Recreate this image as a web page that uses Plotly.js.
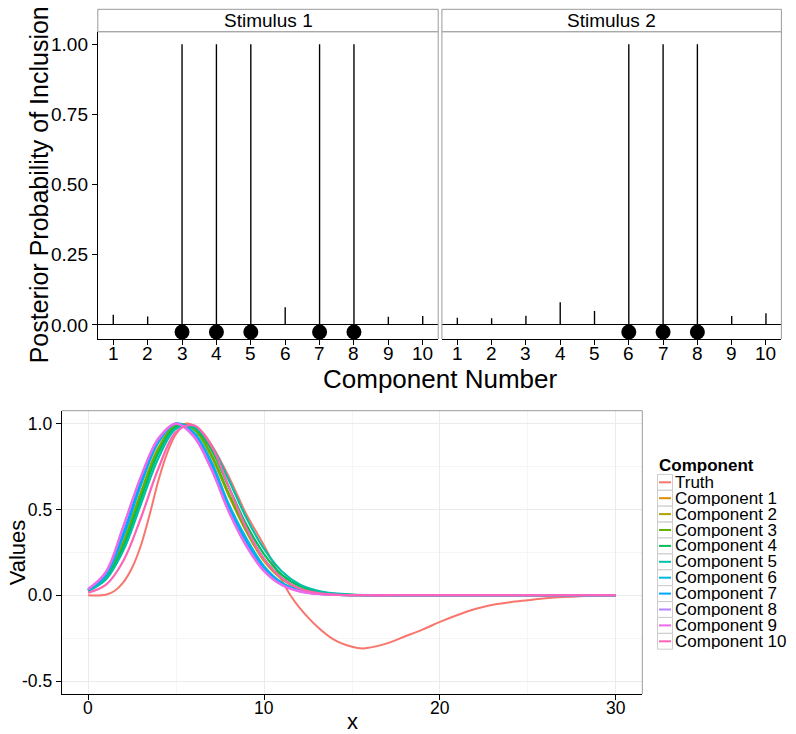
<!DOCTYPE html>
<html>
<head>
<meta charset="utf-8">
<script src="https://cdn.plot.ly/plotly-3.0.1.min.js"></script>
<style>html,body{margin:0;padding:0;background:#fff;}#chart{width:796px;height:734px;}</style>
</head>
<body>
<div id="chart"></div>
<script>
// ---------- data: top panels ----------
const stimulusNames = ['Stimulus 1', 'Stimulus 2'];
const componentNumbers = [1, 2, 3, 4, 5, 6, 7, 8, 9, 10];
const stim1Prob = [0.036, 0.030, 1.0, 1.0, 1.0, 0.063, 1.0, 1.0, 0.029, 0.032];
const stim2Prob = [0.026, 0.024, 0.033, 0.081, 0.050, 1.0, 1.0, 1.0, 0.032, 0.042];
const stim1Selected = [3, 4, 5, 7, 8];
const stim2Selected = [6, 7, 8];
const selectedLevel = -0.025;
const topYTicks = [0, 0.25, 0.5, 0.75, 1.0];

// ---------- data: bottom panel ----------
const curveX = [0,1,2,3,4,5,6,7,8,9,10,11,12,13,14,15,16,17,18,19,20,21,22,23,24,25,26,27,28,29,30];
const truthX = [0,1,1.5,2,2.5,3,3.5,4,4.5,5,5.6,6,6.5,7,7.5,8,8.5,9,9.5,10,10.5,11,11.5,12,13,14,15,15.6,16,17,18,19,20,21,22,23,24,25,26,27,28,29,30];
const truthY = [0,0.003,0.025,0.075,0.16,0.29,0.47,0.67,0.83,0.94,1.0,0.99,0.95,0.88,0.79,0.69,0.58,0.47,0.38,0.29,0.19,0.09,0.0,-0.07,-0.18,-0.26,-0.3,-0.31,-0.305,-0.28,-0.24,-0.2,-0.155,-0.115,-0.08,-0.055,-0.04,-0.029,-0.018,-0.01,-0.005,-0.002,0];
const comp1 = [0.028,0.10,0.31,0.60,0.86,0.99,0.97,0.81,0.58,0.37,0.20,0.095,0.038,0.014,0.005,0.001,0,0,0,0,0,0,0,0,0,0,0,0,0,0,0];
const comp2 = [0.027,0.098,0.30,0.59,0.85,0.99,0.97,0.82,0.59,0.38,0.21,0.10,0.04,0.015,0.005,0.001,0,0,0,0,0,0,0,0,0,0,0,0,0,0,0];
const comp3 = [0.028,0.10,0.30,0.59,0.85,0.99,0.97,0.82,0.59,0.38,0.21,0.10,0.04,0.015,0.005,0.001,0,0,0,0,0,0,0,0,0,0,0,0,0,0,0];
const comp4 = [0.026,0.095,0.28,0.56,0.83,0.98,0.98,0.85,0.63,0.41,0.24,0.12,0.055,0.022,0.008,0.003,0.001,0,0,0,0,0,0,0,0,0,0,0,0,0,0];
const comp5 = [0.025,0.09,0.26,0.53,0.80,0.97,0.98,0.87,0.67,0.45,0.27,0.14,0.065,0.028,0.011,0.004,0.001,0,0,0,0,0,0,0,0,0,0,0,0,0,0];
const comp6 = [0.03,0.115,0.34,0.64,0.89,1.0,0.95,0.78,0.53,0.33,0.17,0.075,0.03,0.011,0.004,0.001,0,0,0,0,0,0,0,0,0,0,0,0,0,0,0];
const comp7 = [0.032,0.12,0.36,0.66,0.90,1.0,0.94,0.76,0.51,0.31,0.155,0.068,0.027,0.01,0.003,0.001,0,0,0,0,0,0,0,0,0,0,0,0,0,0,0];
const comp8 = [0.035,0.13,0.40,0.69,0.91,1.0,0.93,0.74,0.49,0.29,0.145,0.062,0.024,0.009,0.003,0.001,0,0,0,0,0,0,0,0,0,0,0,0,0,0,0];
const comp9 = [0.036,0.135,0.40,0.69,0.915,1.0,0.925,0.735,0.485,0.285,0.14,0.06,0.023,0.008,0.003,0.001,0,0,0,0,0,0,0,0,0,0,0,0,0,0,0];
const comp10 = [0.015,0.06,0.20,0.45,0.74,0.95,0.99,0.87,0.63,0.39,0.21,0.10,0.04,0.014,0.004,0.001,0,0,0,0,0,0,0,0,0,0,0,0,0,0,0];
const seriesNames = ['Truth','Component 1','Component 2','Component 3','Component 4','Component 5','Component 6','Component 7','Component 8','Component 9','Component 10'];
const seriesColors = ['#F8766D','#DB8E00','#AEA200','#64B200','#00BD5C','#00C1A7','#00BADE','#00A6FF','#B385FF','#EF67EB','#FF63B6'];
const bottomXTicks = [0, 10, 20, 30];
const bottomXMinor = [5, 15, 25];
const bottomYTicks = [-0.5, 0, 0.5, 1.0];
const bottomYTickText = ['-0.5', '0.0', '0.5', '1.0'];
const bottomYMinor = [-0.25, 0.25, 0.75];

// ---------- layout helpers ----------
const W = 796, H = 734;
const px = v => v / W;
const py = v => 1 - v / H;
const FONT = 'Liberation Sans, Arial, sans-serif';
const GRAY = '#9a9a9a';

const p1 = [97.8, 438.2], p2 = [441.9, 781.4];
const topY = [31.7, 339];
const stripY = [9.3, 31.7];
const bx = [61.7, 642.3], by = [410.7, 694];

const traces = [];
[[stim1Prob, 'x'], [stim2Prob, 'x2']].forEach(([vals, xa]) => {
  traces.push({type: 'bar', x: componentNumbers, y: vals, xaxis: xa, yaxis: 'y', width: 0.04,
    marker: {color: '#000', line: {width: 0}}, showlegend: false, hoverinfo: 'skip'});
});
[[stim1Selected, 'x'], [stim2Selected, 'x2']].forEach(([sel, xa]) => {
  traces.push({type: 'scatter', mode: 'markers', x: sel, y: sel.map(() => selectedLevel), xaxis: xa, yaxis: 'y',
    marker: {color: '#000', size: 15}, cliponaxis: false, showlegend: false, hoverinfo: 'skip'});
});
const compSeries = [comp1, comp2, comp3, comp4, comp5, comp6, comp7, comp8, comp9, comp10];
traces.push({type: 'scatter', mode: 'lines', x: truthX, y: truthY, xaxis: 'x3', yaxis: 'y3',
  line: {color: seriesColors[0], width: 2, shape: 'spline', smoothing: 1}, name: seriesNames[0], showlegend: false});
compSeries.forEach((ys, i) => {
  traces.push({type: 'scatter', mode: 'lines', x: curveX, y: ys, xaxis: 'x3', yaxis: 'y3',
    line: {color: seriesColors[i + 1], width: 2.2, shape: 'spline', smoothing: 1}, name: seriesNames[i + 1], showlegend: false});
});

const tickFont = {family: FONT, size: 19, color: '#000'};
const topX = dom => ({domain: [px(dom[0]), px(dom[1])], range: [0.55, 10.45], anchor: 'y', tickmode: 'array', tickvals: componentNumbers,
  ticks: 'outside', ticklen: 5, tickcolor: '#000', tickwidth: 1, showline: true, linecolor: '#000', linewidth: 1,
  showgrid: false, zeroline: false, showticklabels: false, fixedrange: true});

const shapes = [];
const annotations = [];
[p1, p2].forEach((d, i) => {
  shapes.push({type: 'line', xref: 'paper', yref: 'paper', x0: px(d[0]), x1: px(d[1]), y0: py(topY[0]), y1: py(topY[0]), line: {color: GRAY, width: 1}});
  shapes.push({type: 'line', xref: 'paper', yref: 'paper', x0: px(d[1]), x1: px(d[1]), y0: py(topY[0]), y1: py(topY[1]), line: {color: GRAY, width: 1}});
  if (i === 1) shapes.push({type: 'line', xref: 'paper', yref: 'paper', x0: px(d[0]), x1: px(d[0]), y0: py(topY[0]), y1: py(topY[1]), line: {color: GRAY, width: 1}});
  shapes.push({type: 'rect', xref: 'paper', yref: 'paper', x0: px(d[0]), x1: px(d[1]), y0: py(stripY[1]), y1: py(stripY[0]), fillcolor: '#fff', line: {color: GRAY, width: 1}});
  annotations.push({xref: 'paper', yref: 'paper', x: px((d[0] + d[1]) / 2), y: py((stripY[0] + stripY[1]) / 2), text: stimulusNames[i],
    showarrow: false, xanchor: 'center', yanchor: 'middle', font: {family: FONT, size: 19, color: '#000'}});
  const xa = i === 0 ? 'x' : 'x2';
  componentNumbers.forEach(c => {
    annotations.push({xref: xa, yref: 'paper', x: c, y: py(353), text: String(c), showarrow: false,
      xanchor: 'center', yanchor: 'middle', font: tickFont});
  });
});
shapes.push({type: 'line', xref: 'paper', yref: 'paper', x0: px(bx[0]), x1: px(bx[1]), y0: py(by[0]), y1: py(by[0]), line: {color: GRAY, width: 1}});
shapes.push({type: 'line', xref: 'paper', yref: 'paper', x0: px(bx[1]), x1: px(bx[1]), y0: py(by[0]), y1: py(by[1]), line: {color: GRAY, width: 1}});
bottomXTicks.forEach(t => {
  annotations.push({xref: 'x3', yref: 'paper', x: t, y: py(708), text: String(t), showarrow: false,
    xanchor: 'center', yanchor: 'middle', font: {family: FONT, size: 17.5, color: '#000'}});
});

annotations.push({xref: 'paper', yref: 'paper', x: px((p1[0] + p2[1]) / 2), y: py(379), text: 'Component Number', showarrow: false,
  xanchor: 'center', yanchor: 'middle', font: {family: FONT, size: 26, color: '#000'}});
annotations.push({xref: 'paper', yref: 'paper', x: px(39), y: py((topY[0] + topY[1]) / 2), text: 'Posterior Probability of Inclusion', showarrow: false,
  textangle: -90, xanchor: 'center', yanchor: 'middle', font: {family: FONT, size: 25, color: '#000'}});
annotations.push({xref: 'paper', yref: 'paper', x: px(17), y: py((by[0] + by[1]) / 2), text: 'Values', showarrow: false,
  textangle: -90, xanchor: 'center', yanchor: 'middle', font: {family: FONT, size: 22, color: '#000'}});
annotations.push({xref: 'paper', yref: 'paper', x: px((bx[0] + bx[1]) / 2), y: py(721), text: 'x', showarrow: false,
  xanchor: 'center', yanchor: 'middle', font: {family: FONT, size: 22, color: '#000'}});

// legend drawn beside the lower panel
annotations.push({xref: 'paper', yref: 'paper', x: px(657), y: py(465), text: '<b>Component</b>', showarrow: false,
  xanchor: 'left', yanchor: 'middle', height: 16, valign: 'middle', font: {family: FONT, size: 17, color: '#000'}});
seriesNames.forEach((nm, i) => {
  const cy = 482.3 + 15.9 * i;
  shapes.push({type: 'rect', xref: 'paper', yref: 'paper', x0: px(657.5), x1: px(672.5), y0: py(cy + 7.9), y1: py(cy - 7.9), fillcolor: '#fff', line: {color: '#cccccc', width: 1}});
  shapes.push({type: 'line', xref: 'paper', yref: 'paper', x0: px(659), x1: px(671), y0: py(cy), y1: py(cy), line: {color: seriesColors[i], width: 2}});
  annotations.push({xref: 'paper', yref: 'paper', x: px(673), y: py(cy), text: nm, showarrow: false,
    xanchor: 'left', yanchor: 'middle', height: 15, valign: 'middle', font: {family: FONT, size: 17, color: '#000'}});
});

const layout = {
  width: W, height: H, margin: {l: 0, r: 0, t: 0, b: 0}, paper_bgcolor: '#fff', plot_bgcolor: '#fff', showlegend: false,
  font: {family: FONT, color: '#000'},
  xaxis: topX(p1),
  xaxis2: topX(p2),
  yaxis: {domain: [py(topY[1]), py(topY[0])], range: [-0.05, 1.045], anchor: 'x', tickmode: 'array', tickvals: topYTicks, tickformat: '.2f',
    ticks: 'outside', ticklen: 5, tickcolor: '#000', showline: true, linecolor: '#000', linewidth: 1, showgrid: false,
    zeroline: true, zerolinecolor: '#000', zerolinewidth: 1, tickfont: tickFont, fixedrange: true},
  xaxis3: {domain: [px(bx[0]), px(bx[1])], range: [-1.5, 31.5], anchor: 'y3', tickmode: 'array', tickvals: bottomXTicks,
    ticks: 'outside', ticklen: 5, tickcolor: '#000', showline: true, linecolor: '#000', linewidth: 1,
    showgrid: true, gridcolor: '#ebebeb', gridwidth: 1, zeroline: false, showticklabels: false,
    minor: {tickmode: 'array', tickvals: bottomXMinor, showgrid: true, gridcolor: '#f5f5f5', gridwidth: 1, ticks: ''}},
  yaxis3: {domain: [py(by[1]), py(by[0])], range: [-0.575, 1.075], anchor: 'x3', tickmode: 'array', tickvals: bottomYTicks, ticktext: bottomYTickText,
    ticks: 'outside', ticklen: 5, tickcolor: '#000', showline: true, linecolor: '#000', linewidth: 1,
    showgrid: true, gridcolor: '#ebebeb', gridwidth: 1, zeroline: false, tickfont: {family: FONT, size: 17.5, color: '#000'},
    minor: {tickmode: 'array', tickvals: bottomYMinor, showgrid: true, gridcolor: '#f5f5f5', gridwidth: 1, ticks: ''}},
  shapes: shapes,
  annotations: annotations
};

Plotly.newPlot('chart', traces, layout, {staticPlot: true, displayModeBar: false});
</script>
</body>
</html>
